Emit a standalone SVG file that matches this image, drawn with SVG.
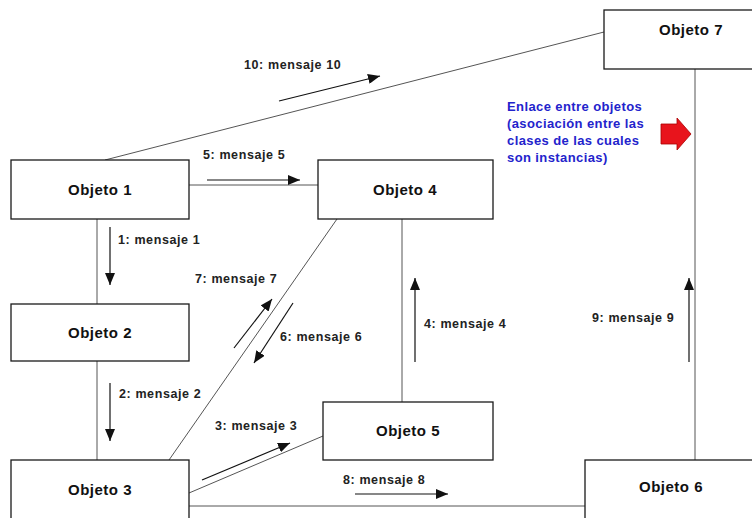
<svg xmlns="http://www.w3.org/2000/svg" width="752" height="518" viewBox="0 0 752 518">
<style>
.box{fill:#fff;stroke:#1a1a1a;stroke-width:1.3}
.nl{font-family:"Liberation Sans",Arial,sans-serif;font-weight:bold;font-size:15px;letter-spacing:0.5px;fill:#111;text-anchor:middle}
.ml{font-family:"Liberation Sans",Arial,sans-serif;font-weight:bold;font-size:12.5px;letter-spacing:0.6px;fill:#222}
.link{stroke:#555;stroke-width:1;fill:none}
.msg{stroke:#111;stroke-width:1.2;fill:none;marker-end:url(#ah)}
.note{font-family:"Liberation Sans",Arial,sans-serif;font-weight:bold;font-size:13px;letter-spacing:0.4px;fill:#2323cc}
</style>
<defs>
<marker id="ah" markerUnits="userSpaceOnUse" markerWidth="13" markerHeight="10" refX="12" refY="5" orient="auto">
<path d="M0,0 L12,5 L0,10 Z" fill="#111"/>
</marker>
</defs>
<rect width="752" height="518" fill="#fff"/>
<g id="connectors">
<line class="link" x1="105" y1="160" x2="604" y2="32"/>
<line class="link" x1="189" y1="185" x2="318" y2="185"/>
<line class="link" x1="97" y1="219" x2="97" y2="304"/>
<line class="link" x1="97" y1="361" x2="97" y2="460"/>
<line class="link" x1="169" y1="460" x2="337" y2="219"/>
<line class="link" x1="189" y1="493" x2="323" y2="436"/>
<line class="link" x1="189" y1="506" x2="585" y2="506"/>
<line class="link" x1="402" y1="219" x2="402" y2="402"/>
<line class="link" x1="695" y1="69" x2="695" y2="461"/>
</g>
<g id="messages">
<line class="msg" x1="279" y1="101" x2="380" y2="76"/>
<text class="ml" x="244" y="69">10: mensaje 10</text>
<line class="msg" x1="207" y1="180" x2="300" y2="180"/>
<text class="ml" x="203" y="159">5: mensaje 5</text>
<line class="msg" x1="110" y1="227" x2="110" y2="285"/>
<text class="ml" x="118" y="244">1: mensaje 1</text>
<line class="msg" x1="110" y1="383" x2="110" y2="441"/>
<text class="ml" x="119" y="398">2: mensaje 2</text>
<line class="msg" x1="234" y1="348" x2="272" y2="299"/>
<text class="ml" x="195" y="283">7: mensaje 7</text>
<line class="msg" x1="293" y1="303" x2="254" y2="363"/>
<text class="ml" x="280" y="341">6: mensaje 6</text>
<line class="msg" x1="202" y1="480" x2="290" y2="443"/>
<text class="ml" x="215" y="430">3: mensaje 3</text>
<line class="msg" x1="355" y1="494" x2="448" y2="494"/>
<text class="ml" x="343" y="484">8: mensaje 8</text>
<line class="msg" x1="415" y1="362" x2="415" y2="278"/>
<text class="ml" x="424" y="328">4: mensaje 4</text>
<line class="msg" x1="689" y1="362" x2="689" y2="278"/>
<text class="ml" x="592" y="322">9: mensaje 9</text>
</g>
<g id="obj1"><rect class="box" x="11" y="160" width="178" height="59"/><text class="nl" x="100" y="195">Objeto 1</text></g>
<g id="obj2"><rect class="box" x="11" y="304" width="178" height="57"/><text class="nl" x="100" y="338">Objeto 2</text></g>
<g id="obj3"><rect class="box" x="11" y="460" width="178" height="70"/><text class="nl" x="100" y="495">Objeto 3</text></g>
<g id="obj4"><rect class="box" x="318" y="160" width="175" height="59"/><text class="nl" x="405" y="195">Objeto 4</text></g>
<g id="obj5"><rect class="box" x="323" y="402" width="170" height="58"/><text class="nl" x="408" y="436">Objeto 5</text></g>
<g id="obj6"><rect class="box" x="585" y="460" width="180" height="70"/><text class="nl" x="671" y="492">Objeto 6</text></g>
<g id="obj7"><rect class="box" x="604" y="10" width="160" height="59"/><text class="nl" x="691" y="35">Objeto 7</text></g>
<g id="note">
<text class="note" x="507" y="111">Enlace entre objetos</text>
<text class="note" x="507" y="128">(asociación entre las</text>
<text class="note" x="507" y="145">clases de las cuales</text>
<text class="note" x="507" y="162">son instancias)</text>
<path d="M661,124 L677,124 L677,118 L691,134 L677,150 L677,144 L661,144 Z" fill="#e8141c" stroke="#a00" stroke-width="0.8"/>
</g>
</svg>
